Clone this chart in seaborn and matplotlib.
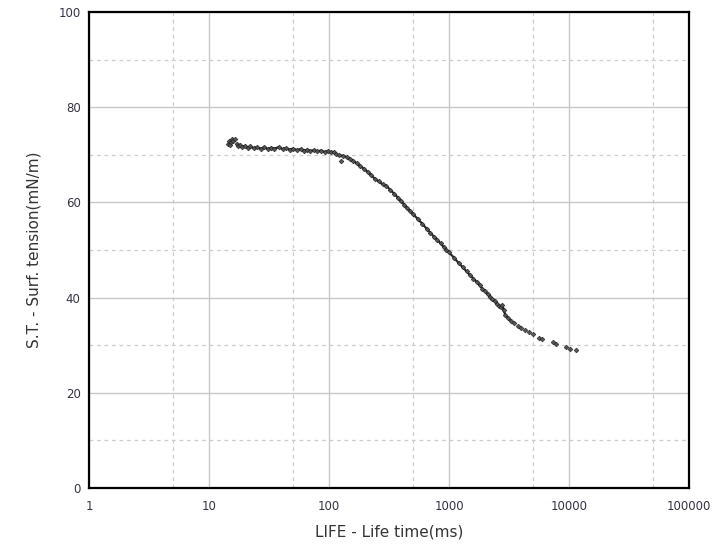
import matplotlib
matplotlib.use("Agg")
import matplotlib.pyplot as plt
import seaborn as sns
import pandas as pd
from matplotlib.ticker import FixedLocator, FixedFormatter, NullFormatter

life_ms = [14.5, 14.8, 15.0, 15.2, 15.6, 16.0, 16.4, 17.0, 17.5, 18, 19, 20, 21, 22, 23.5,
           25, 27, 29, 31, 33, 35, 38, 41, 44, 47, 50, 54, 58, 62, 66, 70, 75, 80, 86, 92,
           98, 104, 110, 115, 120, 125, 130, 140, 150, 160, 170, 180, 195, 210, 225, 240,
           260, 280, 300, 325, 350, 375, 400, 425, 450, 475, 500, 550, 600, 650, 700, 750,
           800, 850, 900, 950, 1000, 1100, 1200, 1300, 1400, 1500, 1600, 1700, 1800, 1900,
           2000, 2100, 2200, 2300, 2400, 2500, 2600, 2700, 2780, 2850, 2950, 3100, 3300,
           3500, 3750, 4000, 4300, 4600, 5000, 5600, 6000, 7300, 7800, 9500, 10200, 11500]
surf_tension = [72.2, 73.0, 72.0, 72.6, 73.3, 72.9, 73.4, 72.3, 71.9, 72.1, 71.7, 71.9, 71.5,
                71.8, 71.4, 71.6, 71.3, 71.6, 71.2, 71.5, 71.3, 71.6, 71.2, 71.4, 71.1, 71.3,
                71.0, 71.2, 70.9, 71.1, 70.8, 71.0, 70.7, 70.9, 70.6, 70.8, 70.5, 70.6, 70.2,
                69.9, 68.6, 69.8, 69.5, 69.1, 68.7, 68.2, 67.7, 67.1, 66.4, 65.7, 65.0, 64.4,
                63.8, 63.5, 62.6, 61.8, 61.0, 60.2, 59.5, 58.8, 58.2, 57.6, 56.5, 55.5, 54.5,
                53.6, 52.8, 52.1, 51.4, 50.7, 50.1, 49.5, 48.4, 47.3, 46.4, 45.5, 44.7, 44.0,
                43.3, 42.6, 41.9, 41.3, 40.7, 40.2, 39.7, 39.2, 38.7, 38.3, 38.0, 38.5, 37.3,
                36.4, 35.7, 35.1, 34.6, 34.0, 33.6, 33.2, 32.8, 32.4, 31.6, 31.2, 30.6, 30.3,
                29.6, 29.3, 28.9]

x_major = [1, 10, 100, 1000, 10000, 100000]
x_labels = ["1", "10", "100", "1000", "10000", "100000"]
x_minor = [5, 50, 500, 5000, 50000]
y_major = [0, 20, 40, 60, 80, 100]
y_minor = [10, 30, 50, 70, 90]

df = pd.DataFrame({"life": life_ms, "st": surf_tension})
dense = df[(df["life"] >= 17) & (df["life"] <= 3300) & (df["life"] != 125)]

sns.set_theme(style="white")
plt.rcParams['font.family'] = ['DejaVu Sans']

fig = plt.figure(figsize=(7.12, 5.44), dpi=100)
ax = fig.add_axes([89/712, 56/544, 600/712, 476/544])

sns.lineplot(data=dense, x="life", y="st", ax=ax, color="#2a2a2a", linewidth=1.6,
             zorder=2, legend=False, estimator=None, sort=False)
sns.scatterplot(data=df, x="life", y="st", ax=ax, marker="D", s=6,
                color="#555555", edgecolor="#111111", linewidth=0.35, zorder=3, legend=False)

ax.set_xscale("log")
ax.set_xlim(1, 100000)
ax.set_ylim(0, 100)

ax.xaxis.set_major_locator(FixedLocator(x_major))
ax.xaxis.set_major_formatter(FixedFormatter(x_labels))
ax.xaxis.set_minor_locator(FixedLocator(x_minor))
ax.xaxis.set_minor_formatter(NullFormatter())
ax.yaxis.set_major_locator(FixedLocator(y_major))
ax.yaxis.set_minor_locator(FixedLocator(y_minor))

ax.grid(which="major", color="#c8c8c8", linestyle="-", linewidth=1.0)
ax.grid(which="minor", color="#cccccc", linestyle=(0, (3, 3)), linewidth=0.9)
ax.set_axisbelow(True)

ax.tick_params(axis="both", which="both", length=0, labelsize=8.5, labelcolor="#333344")
ax.tick_params(axis="x", pad=9)
ax.tick_params(axis="y", pad=6)

for s in ax.spines.values():
    s.set_color("black")
    s.set_linewidth(1.6)
    s.set_visible(True)

ax.set_xlabel("LIFE - Life time(ms)", fontsize=11, color="#333333", labelpad=8)
ax.set_ylabel("S.T. - Surf. tension(mN/m)", fontsize=11, color="#333333", labelpad=12)

fig.savefig("out.png", dpi=100, facecolor="white")
